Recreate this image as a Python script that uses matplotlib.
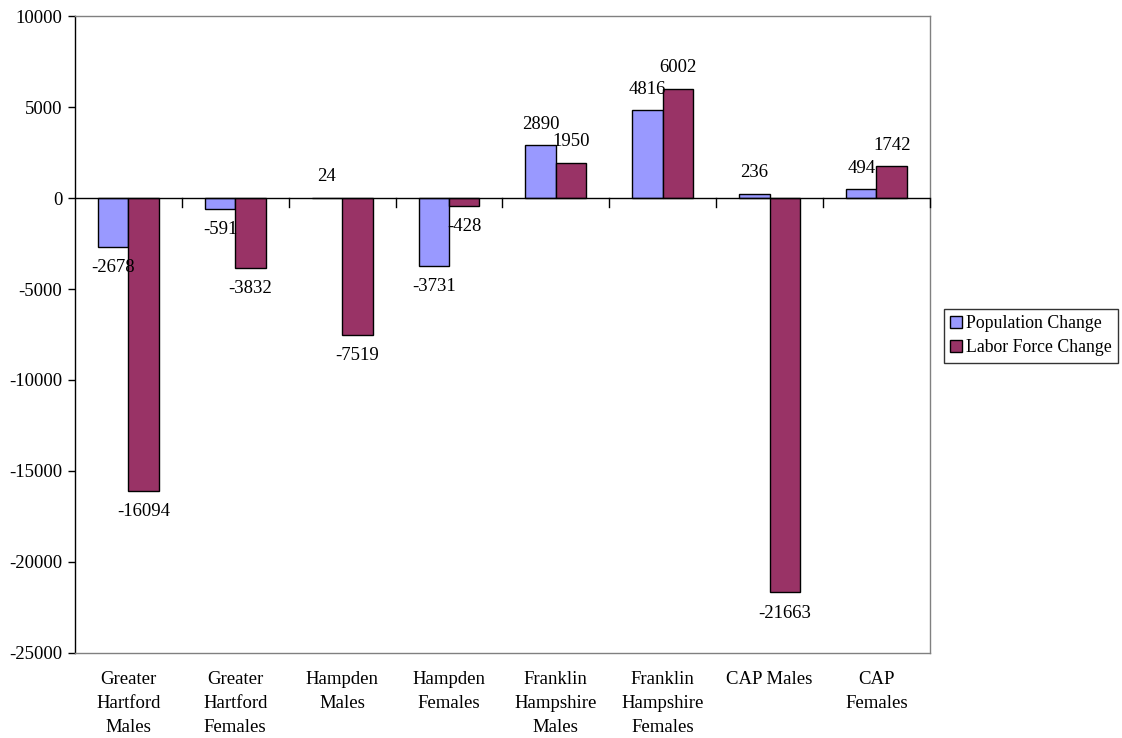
import matplotlib
matplotlib.use("Agg")
import matplotlib.pyplot as plt
import numpy as np

categories = ["Greater\nHartford\nMales", "Greater\nHartford\nFemales", "Hampden\nMales",
              "Hampden\nFemales", "Franklin\nHampshire\nMales", "Franklin\nHampshire\nFemales",
              "CAP Males", "CAP\nFemales"]
population_change = [-2678, -591, 24, -3731, 2890, 4816, 236, 494]
labor_force_change = [-16094, -3832, -7519, -428, 1950, 6002, -21663, 1742]
y_ticks = [10000, 5000, 0, -5000, -10000, -15000, -20000, -25000]

plt.rcParams["font.family"] = ["Liberation Serif", "DejaVu Serif"]
FS = 13.5

fig = plt.figure(figsize=(11.22, 7.38), dpi=100)
ax = fig.add_axes([0.0668, 0.1152, 0.762, 0.8631])

x = np.arange(len(categories))
w = 0.285
b1 = ax.bar(x - w / 2, population_change, w, color="#9999FF", edgecolor="black",
            linewidth=1.0, label="Population Change", zorder=2)
b2 = ax.bar(x + w / 2, labor_force_change, w, color="#993366", edgecolor="black",
            linewidth=1.0, label="Labor Force Change", zorder=2)

for bars in (b1, b2):
    ax.bar_label(bars, labels=[str(int(v.get_height())) for v in bars], padding=9,
                 fontsize=FS, zorder=5)

ax.set_xlim(-0.5, len(categories) - 0.5)
ax.set_ylim(-25000, 10000)
ax.set_yticks(y_ticks)
ax.set_yticklabels([str(t) for t in y_ticks], fontsize=FS)
ax.tick_params(axis="y", direction="out", length=5, width=1, pad=4)

# category labels drawn beneath the plot area
ax.set_xticks([])
for xi, lab in zip(x, categories):
    ax.text(xi, -26000, lab, ha="center", va="top", fontsize=FS, linespacing=1.55,
            transform=ax.transData, clip_on=False)

# zero line with category separator ticks
ax.axhline(0, color="black", linewidth=1.0, zorder=3)
for xb in np.arange(0.5, len(categories), 1.0):
    ax.plot([xb, xb], [0, -500], color="black", linewidth=1.0, zorder=3, clip_on=False)

for side in ("top", "right", "bottom"):
    ax.spines[side].set_color("#808080")
    ax.spines[side].set_linewidth(1.0)
ax.spines["left"].set_color("black")
ax.spines["left"].set_linewidth(1.0)

leg = fig.legend(handles=[b1, b2], loc="center left", bbox_to_anchor=(0.841, 0.545),
                 fontsize=12.8, frameon=True, fancybox=False, edgecolor="black",
                 handlelength=0.7, handleheight=0.7, handletextpad=0.2,
                 borderpad=0.35, labelspacing=0.4, borderaxespad=0)
leg.get_frame().set_linewidth(1.0)

fig.savefig("out.png", dpi=100)
